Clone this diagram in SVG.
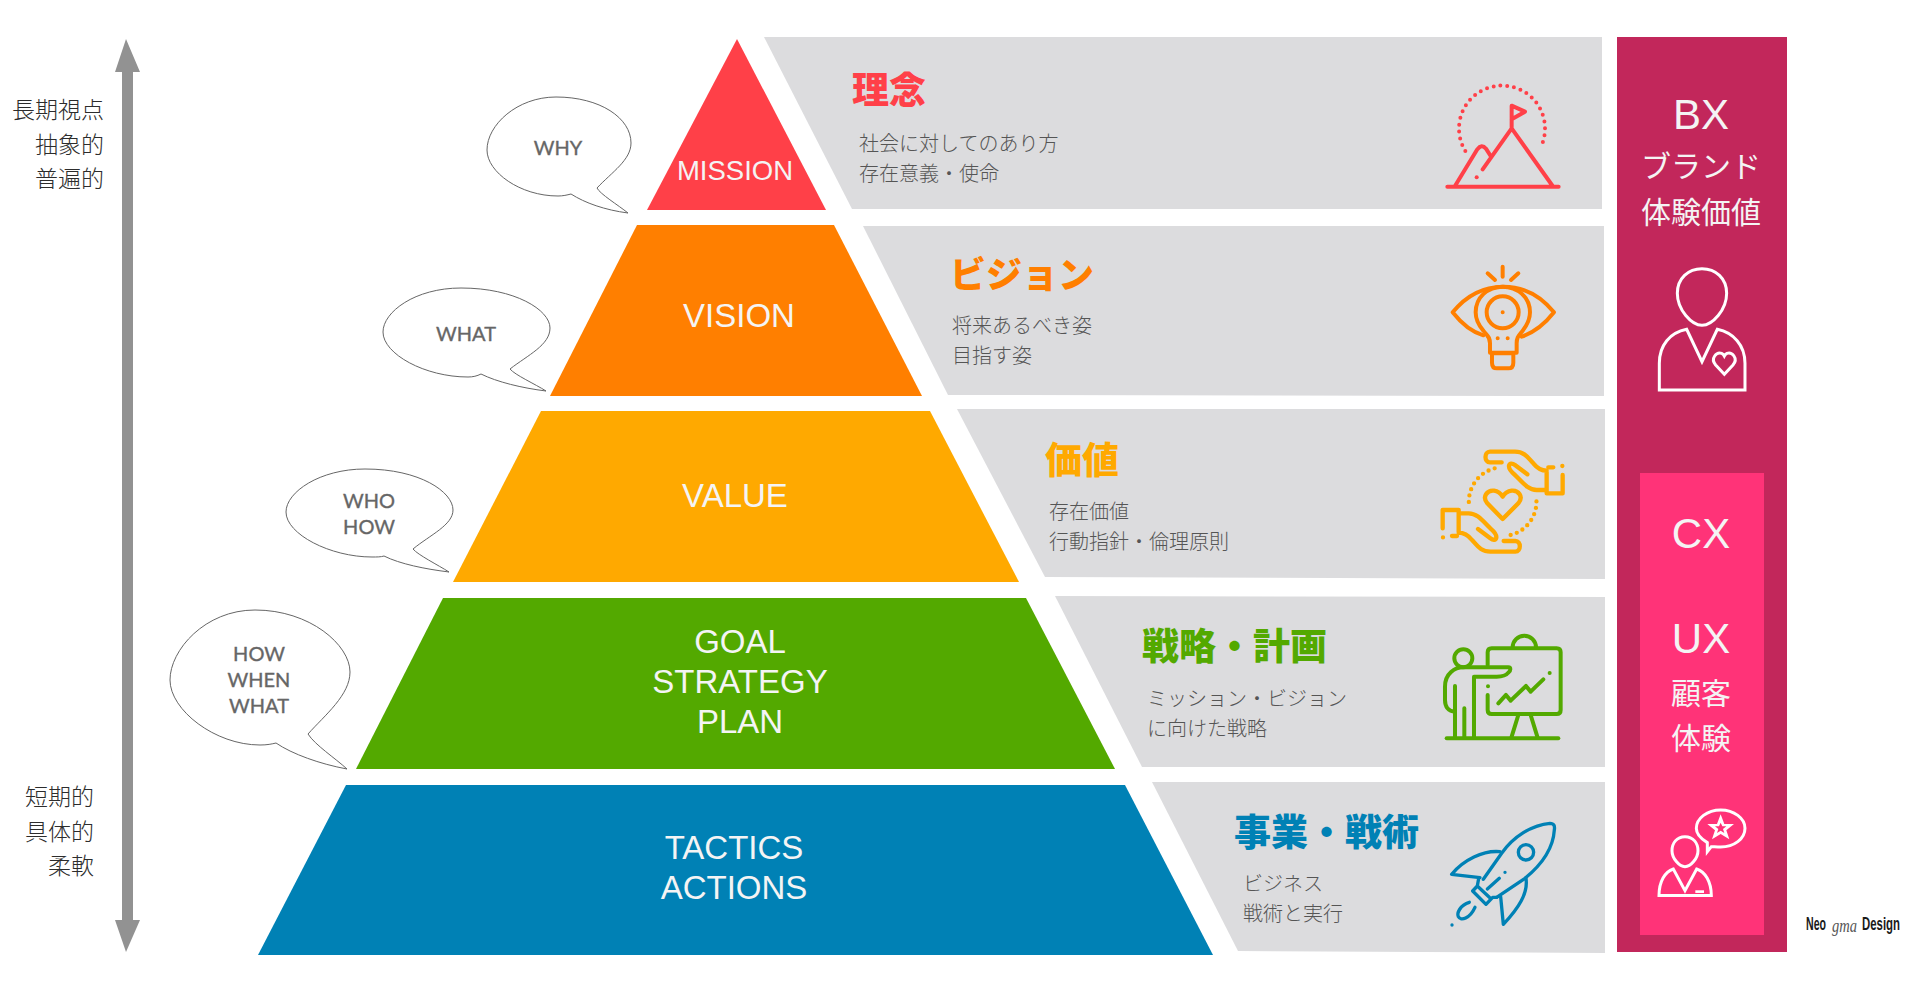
<svg xmlns="http://www.w3.org/2000/svg" xmlns:xlink="http://www.w3.org/1999/xlink" width="1924" height="1000" viewBox="0 0 1924 1000">
<style>
text{font-family:"Noto Sans CJK JP","Liberation Sans",sans-serif}
.panel{fill:#DCDCDE}
.lvl{font-family:"Liberation Sans",sans-serif;font-size:33px;fill:#F4F4F4;text-anchor:middle}
.ttl{font-size:37px;font-weight:900}
.sub{font-size:20px;fill:#555;font-weight:300}
.side{font-size:23px;fill:#2c2c2c;text-anchor:end;font-weight:300}
.bub{fill:#fff;stroke:#666;stroke-width:1}
.btx{font-family:Lato,sans-serif;font-size:20px;fill:#666;text-anchor:middle;stroke:#666;stroke-width:.35}
.xl{font-family:"Liberation Sans",sans-serif;font-size:42px;fill:#F4F4F4;text-anchor:middle}
.xj{font-size:30px;fill:#F4F4F4;text-anchor:middle;font-weight:400}
.ic{fill:none;stroke-width:12;stroke-linecap:round;stroke-linejoin:round}
.w{fill:none;stroke:#fff;stroke-width:9}
.lg{font-family:"Liberation Sans",sans-serif;font-size:18px;font-weight:700;fill:#1a1a1a}
</style>

<g id="connectors">
<polygon points="122,72 115,72 126,39 140,72 133,72 133,920 140,920 126,952 115,920 122,920" fill="#929292"/>
</g>

<g id="axis-labels">
<text class="side" x="104" y="118">長期視点</text>
<text class="side" x="104" y="153">抽象的</text>
<text class="side" x="104" y="187">普遍的</text>
<text class="side" x="94" y="805">短期的</text>
<text class="side" x="94" y="840">具体的</text>
<text class="side" x="94" y="874">柔軟</text>
</g>

<g id="mission">
<polygon points="737,39 647,210 826,210" fill="#FF4048"/>
<text class="lvl" x="735" y="180" style="font-size:27.5px">MISSION</text>
<path class="bub" d="M597 188C612 172 631 160 631 143C631 118 600 97 556 97C517 97 487 125 487 150C487 172 520 196 558 196C563 196 567 195 571 194C585 203 605 210 628 213C618 205 600 194 597 188Z"/>
<text class="btx" x="558" y="155">WHY</text>
<polygon class="panel" points="764,37 1602,37 1602,209 852,209"/>
<text class="ttl" x="852" y="104" fill="#FF4048">理念</text>
<text class="sub" x="859" y="151">社会に対してのあり方</text>
<text class="sub" x="859" y="181">存在意義・使命</text>
<g class="ic" stroke="#FF4048" transform="translate(1400 60) scale(.3333)">
<path d="M142 380H476M165 378L232 268Q245 250 258 266L272 288M248 328L335 205L458 378M335 205V137L375 155L335 178"/>
<path d="M230 352h.1"/>
<path d="M196 273A129 129 0 1 1 424 258" stroke-dasharray="0 20.6"/>
</g>
</g>

<g id="vision">
<polygon points="637,225 834,225 922,396 550,396" fill="#FF7F00"/>
<text class="lvl" x="739" y="327">VISION</text>
<path class="bub" d="M510 369C528 355 550 345 550 328C550 310 515 288 461 288C415 288 383 312 383 332C383 354 425 377 468 377C473 377 477 376 481 374C497 382 522 388 546 391C535 384 515 375 510 369Z"/>
<text class="btx" x="466" y="341">WHAT</text>
<polygon class="panel" points="863,226 1604,226 1604,396 948,395"/>
<text class="ttl" x="950" y="288" fill="#FF7F00" style="font-size:36px">ビジョン</text>
<text class="sub" x="952" y="333">将来あるべき姿</text>
<text class="sub" x="952" y="363">目指す姿</text>
<g class="ic" stroke="#FF7F00" transform="translate(1400 60) scale(.3333)">
<path d="M250 826C210 815 180 785 158 757C200 705 250 680 310 680C370 680 420 705 462 757C440 785 410 815 365 830"/>
<path d="M270 878V850C270 830 262 828 250 812C235 795 227 780 227 757C227 712 263 680 308 680C353 680 390 712 390 757C390 780 380 797 368 812C355 828 350 832 350 850V878Z"/>
<path d="M276 880H340V908Q340 925 325 925H291Q276 925 276 908Z"/>
<circle cx="308" cy="757" r="48"/>
<path d="M308 757h.1M293 835h.1M323 835h.1M308 620V650M263 640L285 660M355 640L333 660"/>
</g>
</g>

<g id="value">
<polygon points="541,411 930,411 1019,582 453,582" fill="#FFA900"/>
<text class="lvl" x="735" y="507">VALUE</text>
<path class="bub" d="M413 549C430 535 453 525 453 510C453 492 420 469 365 469C320 469 286 492 286 512C286 534 330 557 372 557C377 557 381 557 384 556C400 564 425 569 449 572C438 565 418 555 413 549Z"/>
<text class="btx" x="369" y="508">WHO</text>
<text class="btx" x="369" y="534">HOW</text>
<polygon class="panel" points="957,409 1605,409 1605,579 1045,577"/>
<text class="ttl" x="1045" y="474" fill="#FFA900">価値</text>
<text class="sub" x="1049" y="519">存在価値</text>
<text class="sub" x="1049" y="549">行動指針・倫理原則</text>
<g class="ic" stroke="#FFA900" style="stroke-width:13" transform="translate(1400 430) scale(.3333)">
<g id="hand">
<path d="M305 97H270C252 97 252 65 270 65H345C375 65 385 85 400 100C412 115 425 122 440 122M445 112H460M487 108h.1M488 135V190H440V125M440 180H410C385 180 370 160 345 135C315 110 328 92 345 105L382 133"/>
<path d="M284 115A103 103 0 0 0 208 232" stroke-dasharray="0 19.5"/>
</g>
<use xlink:href="#hand" href="#hand" transform="rotate(180 308 215)"/>
<path d="M308 267L262 220C245 200 262 180 282 182C295 184 303 192 308 200C313 192 322 184 335 182C355 180 372 200 355 220Z"/>
</g>
</g>

<g id="goal">
<polygon points="443,598 1026,598 1115,769 356,769" fill="#53A900"/>
<text class="lvl" x="740" y="653">GOAL</text>
<text class="lvl" x="740" y="693">STRATEGY</text>
<text class="lvl" x="740" y="733">PLAN</text>
<path class="bub" d="M308 734C325 715 350 695 350 672C350 645 310 610 255 610C205 610 170 650 170 680C170 710 215 745 260 745C267 745 272 744 276 743C292 754 320 764 347 769C335 758 315 745 308 734Z"/>
<text class="btx" x="259" y="661">HOW</text>
<text class="btx" x="259" y="687">WHEN</text>
<text class="btx" x="259" y="713">WHAT</text>
<polygon class="panel" points="1055,596 1605,597 1605,767 1142,767"/>
<text class="ttl" x="1142" y="660" fill="#53A900">戦略・計画</text>
<text class="sub" x="1147" y="706">ミッション・ビジョン</text>
<text class="sub" x="1147" y="736">に向けた戦略</text>
<g class="ic" stroke="#53A900" transform="translate(1400 430) scale(.3333)">
<path d="M140 925H475"/>
<circle cx="190" cy="685" r="27"/>
<path d="M165 845C145 845 135 830 135 810V770C135 730 165 712 190 712H325C333 712 333 722 325 728C318 737 305 740 290 740H222V920M165 768V920M193 835V920"/>
<path d="M263 705V667Q263 655 275 655H470Q482 655 482 667V840Q482 852 470 852H275Q263 852 263 840V795M264 769h.1M338 652A35 35 0 0 1 408 652M355 855L335 920M392 855L412 920M295 820L318 795L332 812L378 768L392 785L430 748M449 729h.1"/>
</g>
</g>

<g id="tactics">
<polygon points="346,785 1125,785 1213,955 258,955" fill="#0081B5"/>
<text class="lvl" x="734" y="859">TACTICS</text>
<text class="lvl" x="734" y="899">ACTIONS</text>
<polygon class="panel" points="1152,782 1605,782 1605,953 1238,951"/>
<text class="ttl" x="1234" y="846" fill="#0081B5">事業・戦術</text>
<text class="sub" x="1243" y="891">ビジネス</text>
<text class="sub" x="1243" y="921">戦術と実行</text>
<g class="ic" stroke="#0081B5" style="stroke-width:10" transform="translate(1400 780) scale(.3333)">
<path d="M250 298L305 220C340 170 395 135 450 130C462 130 465 138 463 150C460 200 430 250 375 295L290 352"/>
<path d="M300 215C250 210 190 240 155 283L240 293M378 295C385 340 355 385 310 433L302 350M236 296L232 318L218 333L258 373L278 352L290 352M232 318L268 352"/>
<circle cx="378" cy="217" r="23"/>
<path d="M315 277h.1M262 327L298 295M208 367C180 375 170 400 175 410C182 425 210 415 225 382M156 435h.1"/>
</g>
</g>

<g id="bx">
<rect x="1617" y="37" width="170" height="915" fill="#C2275B"/>
<text class="xl" x="1701" y="129">BX</text>
<text class="xj" x="1701" y="177">ブランド</text>
<text class="xj" x="1701" y="223">体験価値</text>
<g class="w" transform="translate(1620 30) scale(.3333)">
<path d="M246 716C205 716 172 745 172 790C172 840 215 886 246 886C277 886 320 840 320 790C320 745 287 716 246 716Z"/>
<path d="M200 898C150 908 118 945 118 1000V1080H375V1000C375 945 340 908 292 898L246 995Z"/>
<path d="M313 1033L287 1005C270 985 290 965 305 970C310 972 313 978 313 978C313 978 316 972 321 970C336 965 356 985 339 1005Z"/>
</g>
</g>

<g id="cx">
<rect x="1640" y="473" width="124" height="462" fill="#FF3378"/>
<text class="xl" x="1701" y="548">CX</text>
<text class="xl" x="1701" y="653">UX</text>
<text class="xj" x="1701" y="704">顧客</text>
<text class="xj" x="1701" y="749">体験</text>
<g class="w" transform="translate(1620 470) scale(.3333)">
<path d="M195 1100C170 1100 156 1120 156 1142C156 1165 178 1190 195 1190C212 1190 234 1165 234 1142C234 1120 220 1100 195 1100Z"/>
<path d="M160 1197C135 1205 117 1235 117 1277H274C274 1235 255 1205 230 1197L195 1262Z"/>
<rect x="226" y="1261" width="26" height="8" fill="#fff" stroke="none"/>
<path d="M262 1145V1118C240 1105 229 1090 229 1075C229 1045 262 1020 302 1020C342 1020 375 1045 375 1075C375 1107 342 1131 302 1131C290 1131 280 1130 274 1130Z"/>
<polygon points="302,1033 313,1062 342,1062 319,1081 328,1108 302,1092 276,1108 285,1081 262,1062 291,1062" fill="#fff" stroke="none"/>
<polygon points="302,1058 307,1069 319,1069 309,1077 313,1089 302,1082 291,1089 295,1077 285,1069 297,1069" fill="#FF3378" stroke="none"/>
</g>
</g>

<g id="logo">
<text class="lg" x="1806" y="930" textLength="20" lengthAdjust="spacingAndGlyphs">Neo</text>
<text x="1832" y="932" textLength="25" lengthAdjust="spacingAndGlyphs" style="font-family:'Liberation Serif',serif;font-size:18px;font-style:italic" fill="#555">gma</text>
<text class="lg" x="1862" y="930" textLength="38" lengthAdjust="spacingAndGlyphs">Design</text>
</g>
</svg>
